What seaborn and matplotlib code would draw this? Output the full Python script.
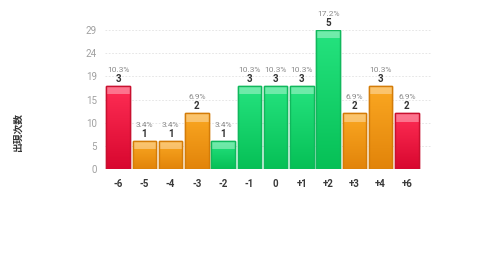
import numpy as np
import pandas as pd
import matplotlib
matplotlib.use("Agg")
import matplotlib.pyplot as plt
import seaborn as sns
from matplotlib.patches import Rectangle
from matplotlib.colors import LinearSegmentedColormap

# data
categories = ["-6", "-5", "-4", "-3", "-2", "-1", "0", "+1", "+2", "+3", "+4", "+6"]
counts = [3, 1, 1, 2, 1, 3, 3, 3, 5, 2, 3, 2]
percents = ["10.3%", "3.4%", "3.4%", "6.9%", "3.4%", "10.3%", "10.3%", "10.3%", "17.2%", "6.9%", "10.3%", "6.9%"]
groups = ["red", "orange", "orange", "orange", "green", "green", "green", "green", "green", "orange", "orange", "red"]
ytick_labels = ["0", "5", "10", "15", "19", "24", "29"]

total = sum(counts)
heights = [c / max(counts) * total for c in counts]

df = pd.DataFrame({"cat": categories, "h": heights, "grp": groups})

palette = {"red": "#e3173c", "orange": "#ee9410", "green": "#12cf69"}
grad = {
    "red": ("#ff2e55", "#d8072f"),
    "orange": ("#fba822", "#e2840a"),
    "green": ("#25e37f", "#06c056"),
}
edge = {"red": "#c9102f", "orange": "#d47c08", "green": "#10b85c"}

sns.set_style("white")
plt.rcParams["font.family"] = ["Roboto", "Noto Sans CJK JP", "DejaVu Sans"]

fig = plt.figure(figsize=(4.8, 2.7), dpi=100)
ax = fig.add_axes([105 / 480, 101 / 270, 327 / 480, 139 / 270])

sns.barplot(data=df, x="cat", y="h", hue="grp", palette=palette, dodge=False,
            width=0.9, legend=False, ax=ax, order=categories)

# gradient fill + lighter top band, positioned from the drawn bars
bars = [p for p in ax.patches if p.get_height() > 0]
bars.sort(key=lambda p: p.get_x())
band = 1.7
for p, g, pct, c in zip(bars, groups, percents, counts):
    x0, w, h = p.get_x(), p.get_width(), p.get_height()
    p.set_edgecolor(edge[g])
    p.set_linewidth(1.0)
    cmap = LinearSegmentedColormap.from_list(g, [grad[g][1], grad[g][0]])
    img = ax.imshow(np.linspace(0, 1, 64).reshape(-1, 1), cmap=cmap, origin="lower",
                    extent=[x0, x0 + w, 0, h], aspect="auto", zorder=p.get_zorder() + 0.1)
    img.set_clip_path(p)
    ax.add_patch(Rectangle((x0, h - band), w, band, facecolor="white", alpha=0.35,
                           edgecolor="none", zorder=p.get_zorder() + 0.2))
    ax.add_patch(Rectangle((x0, 0), w, h, facecolor="none", edgecolor=edge[g],
                           linewidth=1.0, zorder=p.get_zorder() + 0.3))
    cx = x0 + w / 2
    ax.text(cx, h + 0.4, str(c), ha="center", va="bottom", fontsize=7,
            fontweight="bold", color="#333333", clip_on=False)
    ax.text(cx, h + 2.7, pct, ha="center", va="bottom", fontsize=6,
            color="#8a8a8a", clip_on=False)

ticks = [i * total / 6 for i in range(7)]
ax.set_yticks(ticks)
ax.set_yticklabels(ytick_labels)
ax.set_ylim(0, total)
ax.set_xlim(-0.5, 11.96)
for t in ticks[1:]:
    ax.axhline(t, color="#e2e2e2", linewidth=0.6, linestyle=(0, (2, 2)), zorder=0)

ax.tick_params(axis="y", length=0, labelsize=7, labelcolor="#a0a0a0", pad=6)
ax.tick_params(axis="x", length=0, labelsize=7, labelcolor="#3a3a3a", pad=7)
for lbl in ax.get_xticklabels():
    lbl.set_fontweight("bold")
ax.set_xlabel("")
ax.set_ylabel("")
sns.despine(ax=ax, left=True, bottom=True)

fig.text(18 / 480, 1 - 132 / 270, "出現次数", rotation=90, ha="center", va="center",
         fontsize=7, fontweight="bold", color="#333333")

fig.savefig("out.png", dpi=100)
